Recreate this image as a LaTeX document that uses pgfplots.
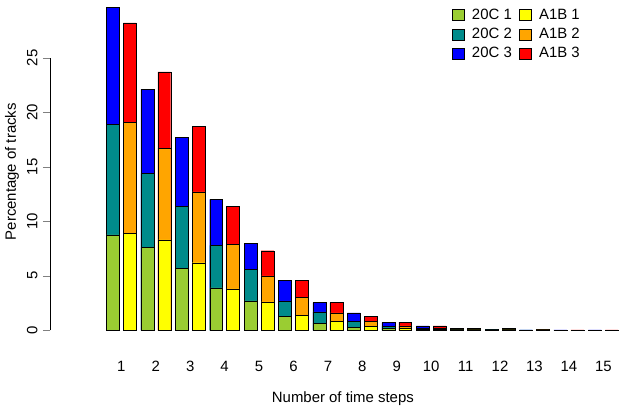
\documentclass[border=0pt]{standalone}
\usepackage{pgfplots}
\pgfplotsset{compat=1.18}
\usepackage{fontspec}
\setmainfont{Liberation Sans}
\definecolor{c1}{HTML}{9ACD32}
\definecolor{c2}{HTML}{008B8B}
\definecolor{c3}{HTML}{0000FF}
\definecolor{a1}{HTML}{FFFF00}
\definecolor{a2}{HTML}{FFA500}
\definecolor{a3}{HTML}{FF0000}
\newcommand{\fs}{\fontsize{15}{18}\selectfont}
\begin{document}
\fs
\begin{tikzpicture}
\begin{axis}[
  scale only axis, width=589pt, height=345pt,
  xmin=-1.08, xmax=15.95, ymin=-1.2, ymax=30.3,
  axis y line*=left, axis x line*=bottom,
  x axis line style={draw=none}, y axis line style={draw=none},
  xtick={1,...,15}, xtick style={draw=none},
  ytick={0,5,...,25}, tick align=outside, major tick length=7pt,
  yticklabel style={rotate=90, anchor=south, font=\fs},
  xticklabel style={font=\fs, yshift=-6pt},
  /pgf/number format/assume math mode=true,
  xlabel={Number of time steps}, ylabel={Percentage of tracks},
  label style={font=\fs},
  xlabel style={yshift=-10pt}, ylabel style={yshift=-2pt},
  ybar, bar width=13pt,
  legend style={draw=none, fill=none, at={(0.681,0.985)}, anchor=north west,
    font=\fs, column sep=6pt, row sep=3.5pt, nodes={inner sep=1.5pt}},
  legend columns=2,
  legend image code/.code={\draw[#1,draw=black] (0pt,-5.5pt) rectangle (12pt,5.5pt);},
]
\addlegendimage{fill=c1}\addlegendentry{20C 1}
\addlegendimage{fill=a1}\addlegendentry{A1B 1}
\addlegendimage{fill=c2}\addlegendentry{20C 2}
\addlegendimage{fill=a2}\addlegendentry{A1B 2}
\addlegendimage{fill=c3}\addlegendentry{20C 3}
\addlegendimage{fill=a3}\addlegendentry{A1B 3}
% 20C cumulative
\addplot[forget plot, fill=c3, draw=black, bar shift=-8.5pt] coordinates {(1,29.6)(2,22.1)(3,17.7)(4,12.0)(5,8.0)(6,4.6)(7,2.55)(8,1.6)(9,0.7)(10,0.4)(11,0.15)(12,0.1)(13,0.05)(14,0.04)(15,0.03)};
\addplot[forget plot, fill=c2, draw=black, bar shift=-8.5pt] coordinates {(1,18.9)(2,14.4)(3,11.4)(4,7.8)(5,5.6)(6,2.7)(7,1.7)(8,0.8)(9,0.35)(10,0.2)(11,0.07)(12,0.05)(13,0.03)(14,0.02)(15,0.02)};
\addplot[forget plot, fill=c1, draw=black, bar shift=-8.5pt] coordinates {(1,8.76)(2,7.6)(3,5.7)(4,3.9)(5,2.7)(6,1.3)(7,0.65)(8,0.3)(9,0.15)(10,0.1)(11,0.03)(12,0.02)(13,0.01)(14,0.01)(15,0.01)};
% A1B cumulative
\addplot[forget plot, fill=a3, draw=black, bar shift=8.5pt] coordinates {(1,28.2)(2,23.7)(3,18.7)(4,11.4)(5,7.3)(6,4.6)(7,2.55)(8,1.3)(9,0.75)(10,0.4)(11,0.2)(12,0.15)(13,0.06)(14,0.04)(15,0.03)};
\addplot[forget plot, fill=a2, draw=black, bar shift=8.5pt] coordinates {(1,19.1)(2,16.7)(3,12.7)(4,7.9)(5,5.0)(6,3.0)(7,1.6)(8,0.8)(9,0.4)(10,0.2)(11,0.1)(12,0.08)(13,0.03)(14,0.02)(15,0.02)};
\addplot[forget plot, fill=a1, draw=black, bar shift=8.5pt] coordinates {(1,8.9)(2,8.3)(3,6.2)(4,3.8)(5,2.6)(6,1.4)(7,0.8)(8,0.35)(9,0.15)(10,0.1)(11,0.05)(12,0.04)(13,0.01)(14,0.01)(15,0.01)};
\draw (axis cs:-1.08,0) -- (axis cs:-1.08,25);
\end{axis}
\path (current axis.south west) ++(-47pt,-72pt) rectangle ([yshift=0pt]current axis.north east);
\end{tikzpicture}
\end{document}
